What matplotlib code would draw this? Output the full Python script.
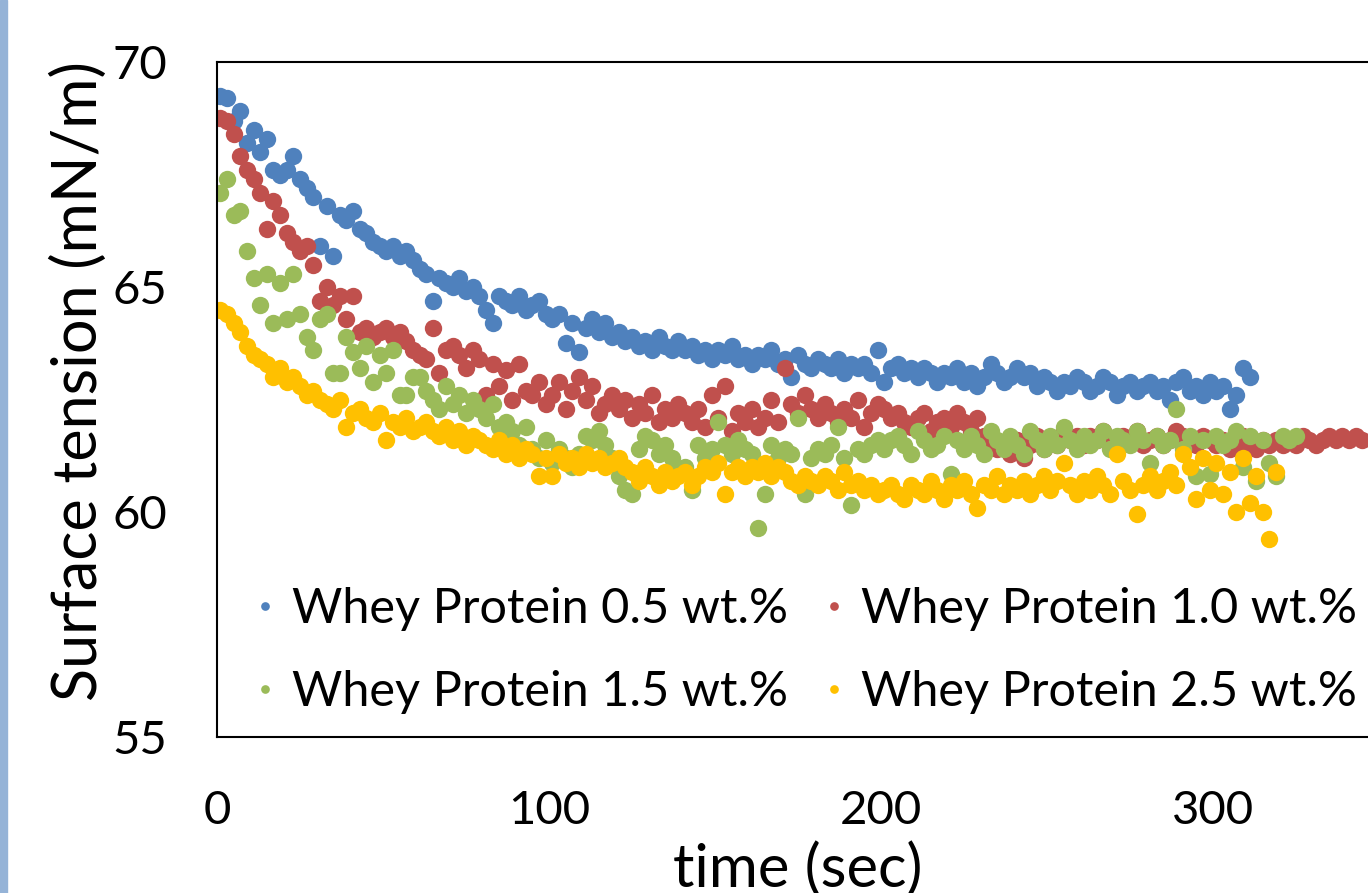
import numpy as np
import matplotlib.pyplot as plt
from matplotlib.patches import Rectangle

plt.rcParams['font.family'] = ['Lato', 'DejaVu Sans']

# time axis (s), sampled every 2 s
t_05 = np.arange(1, 312, 2)
t_10 = np.arange(1, 346, 2)
t_15 = np.arange(1, 326, 2)
t_25 = np.arange(1, 320, 2)

wp_05 = [69.25, 69.2, 68.7, 68.9, 68.2, 68.5, 68.0, 68.3, 67.6, 67.5,
         67.6, 67.9, 67.4, 67.2, 67.0, 65.9, 66.8, 65.7, 66.6, 66.5,
         66.7, 66.3, 66.2, 66.0, 65.9, 65.8, 65.9, 65.7, 65.8, 65.6,
         65.4, 65.3, 64.7, 65.2, 65.1, 65.0, 65.2, 64.9, 65.0, 64.8,
         64.5, 64.2, 64.8, 64.7, 64.6, 64.8, 64.5, 64.6, 64.7, 64.4,
         64.3, 64.4, 63.75, 64.2, 63.55, 64.1, 64.3, 64.0, 64.2, 63.9,
         64.0, 63.8, 63.9, 63.7, 63.8, 63.6, 63.9, 63.7, 63.6, 63.8,
         63.6, 63.7, 63.5, 63.6, 63.4, 63.6, 63.5, 63.7, 63.4, 63.5,
         63.3, 63.5, 63.4, 63.6, 63.3, 63.4, 63.0, 63.5, 63.3, 63.2,
         63.4, 63.3, 63.2, 63.4, 63.1, 63.3, 63.2, 63.3, 63.1, 63.6,
         62.9, 63.2, 63.3, 63.1, 63.2, 63.0, 63.2, 63.1, 62.9, 63.1,
         63.0, 63.2, 62.9, 63.1, 62.8, 63.0, 63.3, 63.1, 62.9, 63.0,
         63.2, 63.0, 63.1, 62.8, 63.0, 62.9, 62.7, 62.9, 62.8, 63.0,
         62.9, 62.7, 62.8, 63.0, 62.9, 62.6, 62.8, 62.9, 62.7, 62.8,
         62.9, 62.7, 62.8, 62.5, 62.9, 63.0, 62.7, 62.8, 62.6, 62.9,
         62.7, 62.8, 62.3, 62.6, 63.2, 63.0]

wp_10 = [68.75, 68.7, 68.4, 67.9, 67.6, 67.4, 67.1, 66.3, 66.9, 66.6,
         66.2, 66.0, 65.8, 65.9, 65.5, 64.7, 65.0, 64.6, 64.8, 64.3,
         64.8, 64.0, 64.1, 63.9, 64.0, 64.1, 63.9, 64.0, 63.8, 63.6,
         63.5, 63.4, 64.1, 63.1, 63.6, 63.7, 63.5, 63.2, 63.6, 63.4,
         62.6, 63.3, 62.8, 63.15, 62.5, 63.3, 62.7, 62.6, 62.9, 62.4,
         62.6, 62.9, 62.3, 62.7, 63.0, 62.5, 62.8, 62.2, 62.4, 62.6,
         62.3, 62.5, 62.1, 62.4, 62.2, 62.6, 62.0, 62.3, 62.1, 62.4,
         62.2, 62.0, 62.3, 61.9, 62.6, 62.1, 62.8, 61.8, 62.2, 62.0,
         62.3, 61.9, 62.1, 62.5, 62.0, 63.2, 62.4, 62.2, 62.6, 62.3,
         62.1, 62.4, 62.2, 62.0, 62.3, 62.1, 62.5, 61.9, 62.2, 62.4,
         62.3, 62.1, 62.2, 62.0, 61.9, 62.1, 62.2, 61.8, 62.0, 62.1,
         61.9, 62.2, 62.0, 61.8, 62.1, 61.7, 61.6, 61.4, 61.5, 61.3,
         61.6, 61.2, 61.5, 61.7, 61.4, 61.6, 61.5, 61.8, 61.6, 61.7,
         61.5, 61.7, 61.6, 61.8, 61.6, 61.5, 61.7, 61.6, 61.8, 61.5,
         61.6, 61.7, 61.5, 61.6, 61.8, 61.7, 61.6, 61.5, 61.7, 61.6,
         61.5, 61.6, 61.4, 61.5, 61.7, 61.5, 61.4, 61.6, 61.5, 61.6,
         61.5, 61.6, 61.5, 61.7, 61.6, 61.5, 61.6, 61.7, 61.6, 61.7,
         61.6, 61.7, 61.6]

wp_15 = [67.1, 67.4, 66.6, 66.7, 65.8, 65.2, 64.6, 65.3, 64.2, 65.1,
         64.3, 65.3, 64.4, 63.9, 63.6, 64.3, 64.4, 63.1, 63.1, 63.9,
         63.55, 63.2, 63.7, 62.9, 63.5, 63.1, 63.6, 62.6, 62.6, 63.0,
         63.0, 62.7, 62.5, 62.3, 62.8, 62.4, 62.6, 62.2, 62.5, 62.3,
         62.1, 62.4, 61.9, 62.0, 61.8, 61.5, 61.9, 61.4, 61.2, 61.6,
         61.1, 61.4, 61.2, 61.0, 61.3, 61.7, 61.6, 61.8, 61.5, 61.2,
         60.8, 60.5, 60.4, 61.4, 61.7, 61.6, 61.3, 61.5, 61.2, 60.9,
         61.0, 60.5, 61.5, 61.2, 61.4, 62.0, 61.5, 61.3, 61.6, 61.4,
         61.3, 59.65, 60.4, 61.5, 61.2, 61.4, 61.3, 62.1, 60.4, 61.2,
         61.4, 61.3, 61.5, 61.9, 61.2, 60.15, 61.4, 61.3, 61.5, 61.6,
         61.4, 61.6, 61.7, 61.5, 61.3, 61.8, 61.6, 61.4, 61.5, 61.7,
         60.85, 61.6, 61.4, 61.7, 61.5, 61.3, 61.8, 61.6, 61.4, 61.7,
         61.5, 61.3, 61.8, 61.6, 61.4, 61.7, 61.5, 61.9, 61.6, 61.4,
         61.7, 61.5, 61.6, 61.8, 61.4, 61.7, 61.6, 61.5, 61.8, 61.6,
         61.1, 61.7, 61.5, 61.6, 62.3, 61.4, 61.7, 60.8, 61.6, 60.85,
         61.7, 61.5, 61.6, 61.8, 61.0, 61.7, 60.7, 61.6, 61.1, 60.8,
         61.7, 61.6, 61.7]

wp_25 = [64.5, 64.4, 64.2, 64.0, 63.7, 63.5, 63.4, 63.3, 63.0, 63.2,
         62.9, 63.0, 62.8, 62.6, 62.7, 62.5, 62.4, 62.3, 62.5, 61.9,
         62.2, 62.3, 62.1, 62.0, 62.2, 61.6, 62.0, 61.9, 62.1, 61.8,
         61.9, 62.0, 61.8, 61.7, 61.9, 61.6, 61.8, 61.5, 61.7, 61.6,
         61.5, 61.4, 61.6, 61.3, 61.5, 61.2, 61.4, 61.3, 60.8, 61.2,
         60.8, 61.3, 61.1, 61.2, 61.0, 61.3, 61.1, 61.2, 61.0, 61.1,
         61.2, 61.0, 60.9, 60.7, 61.0, 60.8, 60.6, 60.9, 60.7, 60.8,
         60.9, 60.6, 60.8, 61.0, 60.9, 61.1, 60.4, 60.9, 61.0, 60.8,
         61.0, 60.9, 61.1, 60.8, 61.0, 60.9, 60.7, 60.6, 60.8, 60.7,
         60.6, 60.8, 60.7, 60.5, 60.9, 60.6, 60.7, 60.5, 60.6, 60.4,
         60.5, 60.6, 60.4, 60.3, 60.6, 60.5, 60.4, 60.7, 60.5, 60.3,
         60.6, 60.5, 60.7, 60.4, 60.1, 60.6, 60.5, 60.8, 60.4, 60.6,
         60.5, 60.7, 60.4, 60.6, 60.8, 60.5, 60.7, 61.1, 60.6, 60.4,
         60.7, 60.5, 60.8, 60.6, 60.4, 61.3, 60.7, 60.5, 59.95, 60.6,
         60.8, 60.5, 60.7, 60.9, 60.6, 61.3, 61.0, 60.3, 61.2, 60.5,
         61.1, 60.4, 60.9, 60.0, 61.2, 60.2, 60.8, 60.0, 59.4, 60.9]

labels = ['Whey Protein 0.5 wt.%', 'Whey Protein 1.0 wt.%',
          'Whey Protein 1.5 wt.%', 'Whey Protein 2.5 wt.%']
colors = ['#4F81BD', '#C0504D', '#9BBB59', '#FFC000']

fig = plt.figure(figsize=(13.68, 8.93), dpi=100)
# axes runs past the right edge, like the cropped original
ax = fig.add_axes([217/1368, 156/893, 1162/1368, 675/893])

lines = []
for t, y, c, lab in zip([t_05, t_10, t_15, t_25], [wp_05, wp_10, wp_15, wp_25], colors, labels):
    ln, = ax.plot(t, y, 'o', color=c, markersize=12.5, markeredgewidth=0, label=lab)
    lines.append(ln)

ax.set_xlim(0, 350)
ax.set_ylim(55, 70)
ax.set_xticks([0, 100, 200, 300])
ax.set_yticks([55, 60, 65, 70])
ax.tick_params(axis='both', length=0, labelsize=34)
ax.tick_params(axis='y', pad=36)
ax.tick_params(axis='x', pad=38)
for s in ax.spines.values():
    s.set_linewidth(1.5)

ax.set_ylabel('Surface tension (mN/m)', fontsize=44)
ax.yaxis.set_label_coords(-0.094, 0.527)
ax.set_xlabel('time (sec)', fontsize=43)
ax.xaxis.set_label_coords(0.5, -0.155)

order = [0, 2, 1, 3]
ax.legend([lines[i] for i in order], [labels[i] for i in order], ncol=2,
          loc='lower left', bbox_to_anchor=(0.012, 0.005), borderaxespad=0,
          frameon=False, fontsize=35, markerscale=0.5, handletextpad=0.25,
          handlelength=0.6, columnspacing=0.65, labelspacing=0.8)

fig.patches.append(Rectangle((0, 0), 7/1368, 1, transform=fig.transFigure,
                             color='#95B3D7', zorder=0))

fig.savefig('out.png', dpi=100)
